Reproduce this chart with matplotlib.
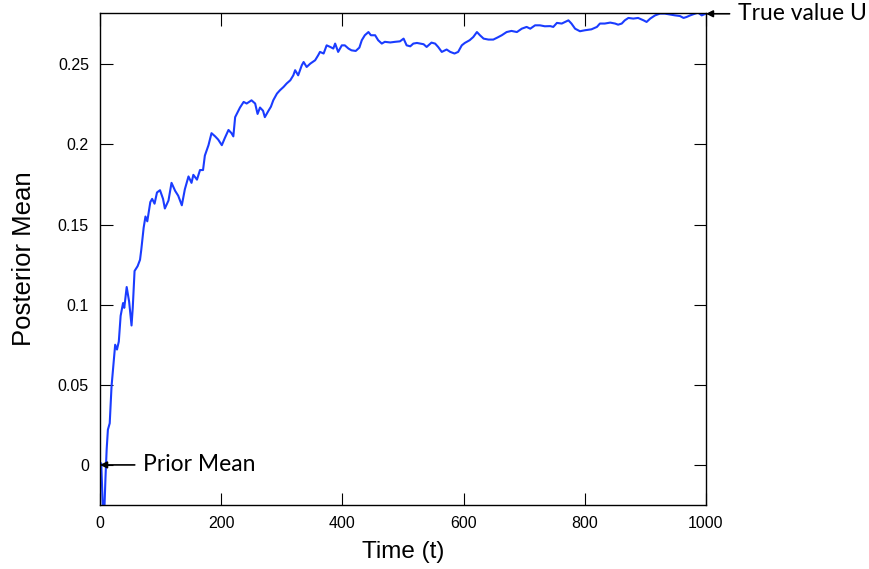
import matplotlib.pyplot as plt

# posterior mean trace
t = [0, 2, 3, 5, 7, 9, 11, 13, 16, 19, 22, 25, 28, 31, 34, 38, 40, 44, 48, 52,
     54, 57, 62, 66, 68, 72, 75, 78, 83, 86, 90, 94, 99, 104, 107, 113, 118, 124,
     129, 135, 140, 146, 151, 154, 160, 165, 170, 173, 179, 184, 190, 195, 201,
     206, 212, 217, 220, 223, 231, 237, 242, 250, 256, 260, 264, 269, 272, 278,
     282, 286, 292, 297, 303, 308, 314, 319, 322, 327, 333, 336, 341, 347, 355,
     360, 363, 369, 374, 380, 385, 388, 393, 399, 404, 410, 415, 422, 428, 432,
     437, 443, 447, 454, 459, 465, 470, 479, 487, 495, 501, 506, 512, 517, 523,
     534, 539, 547, 553, 558, 564, 572, 578, 585, 591, 597, 602, 610, 616, 622,
     627, 633, 641, 649, 656, 663, 671, 679, 688, 696, 704, 710, 718, 726, 734,
     743, 748, 754, 762, 773, 778, 784, 792, 800, 811, 820, 825, 833, 842, 850,
     855, 861, 866, 872, 880, 888, 897, 902, 908, 916, 924, 932, 941, 949, 957,
     963, 968, 974, 982, 987, 993, 1000]
post_mean = [0.0, 0.001, -0.01, -0.03, -0.03, -0.008, 0.01, 0.022, 0.026, 0.049,
             0.062, 0.075, 0.072, 0.077, 0.093, 0.101, 0.098, 0.111, 0.102, 0.087,
             0.098, 0.121, 0.124, 0.128, 0.134, 0.148, 0.155, 0.152, 0.164, 0.166,
             0.163, 0.17, 0.1714, 0.166, 0.16, 0.165, 0.176, 0.171, 0.168, 0.162,
             0.172, 0.18, 0.176, 0.181, 0.178, 0.184, 0.184, 0.193, 0.1995, 0.207,
             0.205, 0.203, 0.1995, 0.204, 0.209, 0.207, 0.205, 0.217, 0.223, 0.2265,
             0.2255, 0.2275, 0.2255, 0.219, 0.223, 0.221, 0.217, 0.221, 0.2235,
             0.2276, 0.2317, 0.2338, 0.2359, 0.238, 0.24, 0.2431, 0.2463, 0.2431,
             0.2494, 0.2514, 0.2483, 0.2504, 0.2525, 0.2556, 0.2577, 0.2567, 0.2618,
             0.2608, 0.2598, 0.2629, 0.2577, 0.2618, 0.2618, 0.2598, 0.2587, 0.2583,
             0.2604, 0.265, 0.2681, 0.2701, 0.2681, 0.2681, 0.265, 0.2629, 0.264,
             0.2636, 0.264, 0.2643, 0.266, 0.2618, 0.2612, 0.2629, 0.2633, 0.2625,
             0.2608, 0.2635, 0.2629, 0.2608, 0.2577, 0.2592, 0.2577, 0.2567, 0.2577,
             0.2618, 0.2633, 0.265, 0.267, 0.2701, 0.2681, 0.266, 0.2654, 0.2654,
             0.2667, 0.2681, 0.2701, 0.2708, 0.2701, 0.2722, 0.2733, 0.2722, 0.2743,
             0.2743, 0.2737, 0.2738, 0.2733, 0.2758, 0.2754, 0.2774, 0.2754, 0.2722,
             0.2706, 0.2712, 0.2718, 0.2733, 0.2754, 0.2754, 0.276, 0.2754, 0.2747,
             0.2754, 0.2774, 0.2789, 0.2785, 0.2789, 0.2774, 0.2764, 0.2785, 0.2805,
             0.2816, 0.2816, 0.281, 0.2805, 0.2801, 0.2789, 0.2795, 0.2805, 0.2816,
             0.2822, 0.2805, 0.2816]

prior_mean = 0.0
true_u = 0.2815

x_ticks = [0, 200, 400, 600, 800, 1000]
y_ticks = [0, 0.05, 0.1, 0.15, 0.2, 0.25]
y_tick_labels = ["0", "0.05", "0.1", "0.15", "0.2", "0.25"]

fig = plt.figure(figsize=(8.69, 5.69), dpi=100)
ax = fig.add_axes([0.1151, 0.1125, 0.6973, 0.8647])

ax.plot(t, post_mean, color="#1a3cff", lw=1.5)

ax.set_xlim(0, 1000)
ax.set_ylim(-0.025, 0.282)
ax.set_xticks(x_ticks)
ax.set_yticks(y_ticks)
ax.set_yticklabels(y_tick_labels)
ax.tick_params(direction="in", length=9, width=0.8, top=True, right=True,
               labelsize=11.5, pad=8)
for lab in ax.get_xticklabels() + ax.get_yticklabels():
    lab.set_family("Liberation Sans")
for sp in ax.spines.values():
    sp.set_linewidth(1.0)

ax.set_xlabel("Time (t)", fontsize=17.5, family="Liberation Sans", labelpad=7)
ax.set_ylabel("Posterior Mean", fontsize=18.5, family="Liberation Sans", labelpad=16)

arrow = dict(arrowstyle="-|>", color="black", lw=1.2, mutation_scale=10,
             shrinkA=4, shrinkB=0)
ax.annotate("Prior Mean", xy=(0, prior_mean), xytext=(31, 0),
            textcoords="offset points", ha="left", va="center",
            fontsize=16.5, family="Lato", arrowprops=arrow,
            annotation_clip=False)
ax.annotate("True value U", xy=(1000, true_u), xytext=(23, 0),
            textcoords="offset points", ha="left", va="center",
            fontsize=16.5, family="Lato", arrowprops=arrow,
            annotation_clip=False)

fig.savefig("out.png", dpi=100)
